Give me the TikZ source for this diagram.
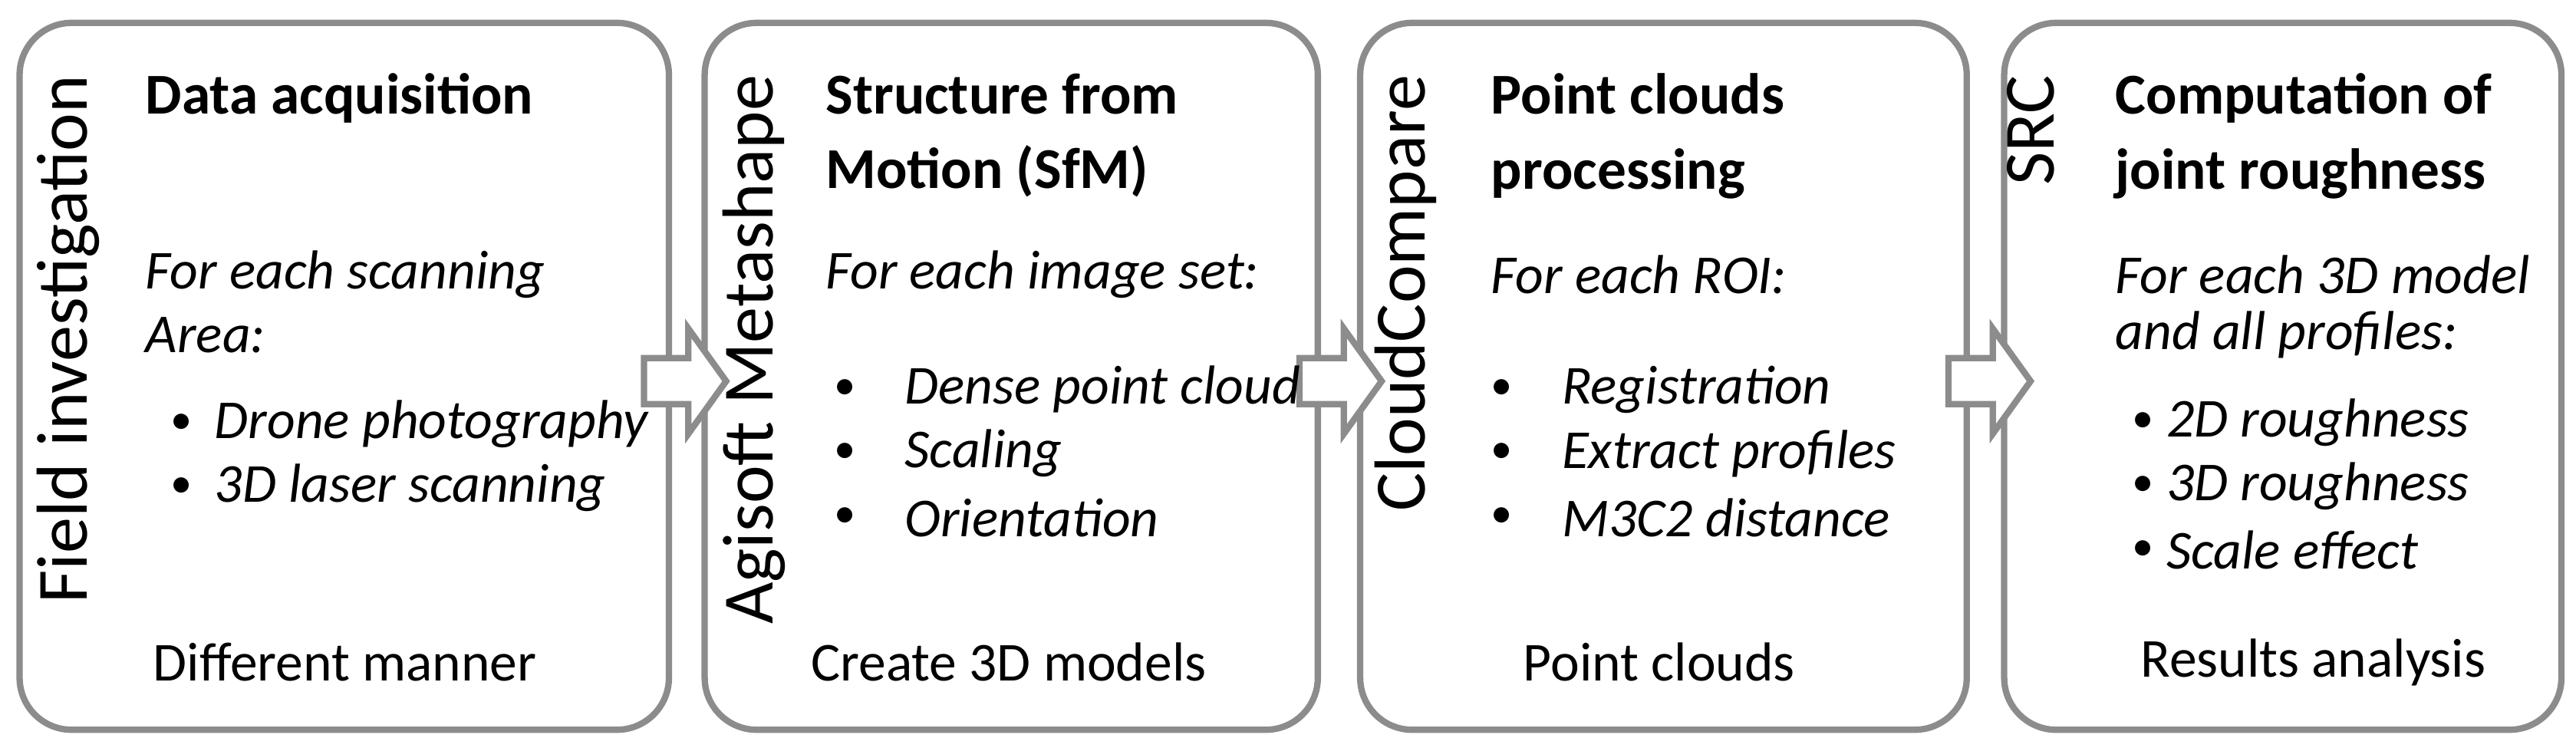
\documentclass[tikz,border=0pt]{standalone}
\usepackage{fontspec}
\setmainfont{Carlito}
\tikzset{
  box/.style={draw=black!45, line width=1.1pt, rounded corners=9pt, fill=white},
  side/.style={rotate=90, anchor=north east, inner sep=0pt, font=\fontsize{12.5}{14}\selectfont},
  title/.style={anchor=north west, inner sep=0pt, align=left, font=\fontsize{10}{13}\selectfont\bfseries},
  txt/.style={anchor=west, inner sep=0pt, font=\fontsize{9.5}{11}\selectfont\itshape},
  bul/.style={anchor=west, inner sep=0pt, font=\fontsize{7.5}{11}\selectfont},
  foot/.style={inner sep=0pt, font=\fontsize{9.5}{11}\selectfont},
  blk/.style={draw=black!45, line width=1.1pt, fill=white, line join=miter},
  pics/blkarrow/.style={code={
    \draw[blk] (0,-14) -- (27,-14) -- (27,-32) -- (50,0) -- (27,32) -- (27,14) -- (0,14) -- cycle;}}
}
\begin{document}
\begin{tikzpicture}[x=0.01cm,y=-0.01cm]
\useasboundingbox (0,0) rectangle (1568,455);
\node[box, minimum width=3.95cm, minimum height=4.3cm, anchor=north west] (b1) at (10,12) {};
\node[box, minimum width=3.73cm, minimum height=4.3cm, anchor=north west] (b2) at (427,12) {};
\node[box, minimum width=3.69cm, minimum height=4.3cm, anchor=north west] (b3) at (826,12) {};
\node[box, minimum width=3.39cm, minimum height=4.3cm, anchor=north west] (b4) at (1218,12) {};
\pic at (392,232) {blkarrow};
\pic at (791,232) {blkarrow};
\pic at (1186,232) {blkarrow};
% side labels
\node[side] (s1) at (22,45) {Field investigation};
\node[side] (s2) at (439,45) {Agisoft Metashape};
\node[side] (s3) at (836,45) {CloudCompare};
\node[side] (s4) at (1221,45) {SRC};
% titles
\node[title] (t1) at (88,44) {Data acquisition};
\node[title] (t2) at (502,44) {Structure from\\Motion (SfM)};
\node[title] (t3) at (907,44) {Point clouds\\processing};
\node[title] (t4) at (1287,44) {Computation of\\joint roughness};
% box 1
\node[txt] (p1) at (88,167) {For each scanning};
\node[txt] (p2) at (88,204) {Area:};
\node[bul] (u1) at (103,258) {•}; \node[txt] (i1) at (130,258) {Drone photography};
\node[bul] (u2) at (103,297) {•}; \node[txt] (i2) at (130,297) {3D laser scanning};
% box 2
\node[bul] (v1) at (507,237) {•}; \node[txt] (j1) at (550,237) {Dense point cloud};
\node[txt] (q1) at (502,167) {For each image set:};
\node[bul] (v2) at (507,276) {•}; \node[txt] (j2) at (550,276) {Scaling};
\node[bul] (v3) at (507,315) {•}; \node[txt] (j3) at (550,315) {Orientation};
% box 3
\node[txt] (r1) at (907,167) {For each ROI:};
\node[bul] (w1) at (907,237) {•}; \node[txt] (k1) at (950,237) {Registration};
\node[bul] (w2) at (907,276) {•}; \node[txt] (k2) at (950,276) {Extract profiles};
\node[bul] (w3) at (907,315) {•}; \node[txt] (k3) at (950,315) {M3C2 distance};
% box 4
\node[txt] (s41) at (1287,167) {For each 3D model};
\node[txt] (s42) at (1287,204) {and all profiles:};
\node[bul] (x1) at (1297,257) {•}; \node[txt] (l1) at (1318,257) {2D roughness};
\node[bul] (x2) at (1297,296) {•}; \node[txt] (l2) at (1318,296) {3D roughness};
\node[bul] (x3) at (1297,335) {•}; \node[txt] (l3) at (1318,335) {Scale effect};
% footers
\node[foot] (f1) at (210,403) {Different manner};
\node[foot] (f2) at (614,403) {Create 3D models};
\node[foot] (f3) at (1010,403) {Point clouds};
\node[foot] (f4) at (1408,403) {Results analysis};
\end{tikzpicture}
\end{document}
